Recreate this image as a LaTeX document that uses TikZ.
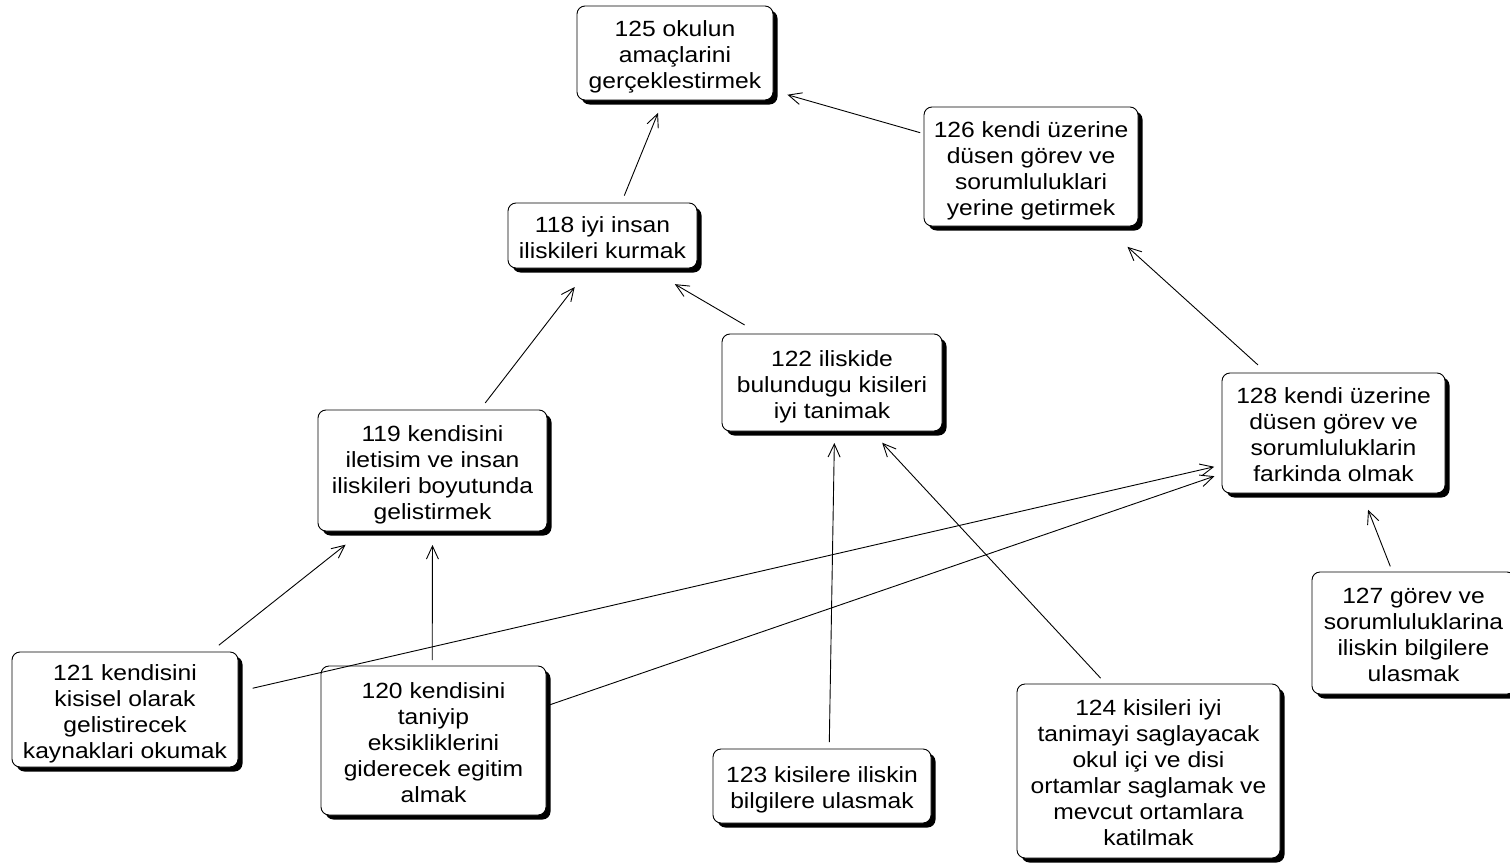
\documentclass[tikz,border=0pt]{standalone}
\usepackage{fontspec}
\setmainfont{Liberation Sans}[FakeStretch=1.12]
\usetikzlibrary{arrows.meta,shadows}

% centred lines of a goal, set a little lower than the geometric centre
\newcommand{\goaltext}[1]{\raisebox{-4.5pt}[\height][\depth]{\begin{tabular}{@{}c@{}}#1\end{tabular}}}

\begin{document}
\begin{tikzpicture}[x=1pt,y=-1pt,
  goal/.style={draw=black, line width=0.9pt, rounded corners=8pt, fill=white,
    inner sep=0pt, outer sep=0pt, anchor=north west,
    font=\fontsize{22}{26}\selectfont,
    drop shadow={shadow xshift=4.5pt, shadow yshift=-4.5pt, opacity=1, fill=black}},
  link/.style={draw=black, line width=0.9pt,
    -{Straight Barb[length=13pt,width=12pt,line width=0.9pt]}}
]
\useasboundingbox (0,0) rectangle (1510,867);

% goals
\node[goal, minimum width=196pt, minimum height=94pt]  (n125) at (577,6)   {\goaltext{125 okulun\\amaçlarini\\gerçeklestirmek}};
\node[goal, minimum width=214pt, minimum height=119pt] (n126) at (924,107) {\goaltext{126 kendi üzerine\\düsen görev ve\\sorumluluklari\\yerine getirmek}};
\node[goal, minimum width=189pt, minimum height=65pt]  (n118) at (508,203) {\goaltext{118 iyi insan\\iliskileri kurmak}};
\node[goal, minimum width=220pt, minimum height=97pt]  (n122) at (722,334) {\goaltext{122 iliskide\\bulundugu kisileri\\iyi tanimak}};
\node[goal, minimum width=223pt, minimum height=120pt] (n128) at (1222,373) {\goaltext{128 kendi üzerine\\düsen görev ve\\sorumluluklarin\\farkinda olmak}};
\node[goal, minimum width=229pt, minimum height=121pt] (n119) at (318,410) {\goaltext{119 kendisini\\iletisim ve insan\\iliskileri boyutunda\\gelistirmek}};
\node[goal, minimum width=203pt, minimum height=122pt] (n127) at (1312,572) {\goaltext{127 görev ve\\sorumluluklarina\\iliskin bilgilere\\ulasmak}};
\node[goal, minimum width=226pt, minimum height=115pt] (n121) at (12,652)  {\goaltext{121 kendisini\\kisisel olarak\\gelistirecek\\kaynaklari okumak}};
\node[goal, minimum width=225pt, minimum height=149pt] (n120) at (321,666) {\goaltext{120 kendisini\\taniyip\\eksikliklerini\\giderecek egitim\\almak}};
\node[goal, minimum width=263pt, minimum height=174pt] (n124) at (1017,684) {\goaltext{124 kisileri iyi\\tanimayi saglayacak\\okul içi ve disi\\ortamlar saglamak ve\\mevcut ortamlara\\katilmak}};
\node[goal, minimum width=218pt, minimum height=74pt]  (n123) at (713,749) {\goaltext{123 kisilere iliskin\\bilgilere ulasmak}};

% contributions
\draw[link, shorten <=8pt,  shorten >=14pt] (n118.60)  -- (n125.-104);
\draw[link, shorten <=4pt,  shorten >=15pt] (n126.163) -- (n125.-21);
\draw[link, shorten <=9pt,  shorten >=24pt] (n119.52)  -- (n118.-112);
\draw[link, shorten <=18pt, shorten >=32pt] (n122.146) -- (n118.-36);
\draw[link, shorten <=12pt, shorten >=31pt] (n128.138) -- (n126.-39);
\draw[link, shorten <=11pt, shorten >=22pt] (n121.34)  -- (n119.-139);
\draw[link, shorten <=6pt,  shorten >=14pt] (n120.91)  -- (n119.-90);
\draw[link, shorten <=15pt, shorten >=8pt]  (n121.9)   -- (n128.-164);
\draw[link, shorten <=1pt,  shorten >=8pt]  (n120.17)  -- (n128.-160);
\draw[link, shorten <=7pt,  shorten >=12pt] (n123.79)  -- (n122.-87);
\draw[link, shorten <=8pt,  shorten >=16pt] (n124.116) -- (n122.-51);
\draw[link, shorten <=6pt,  shorten >=18pt] (n127.109) -- (n128.-65);
\end{tikzpicture}
\end{document}
